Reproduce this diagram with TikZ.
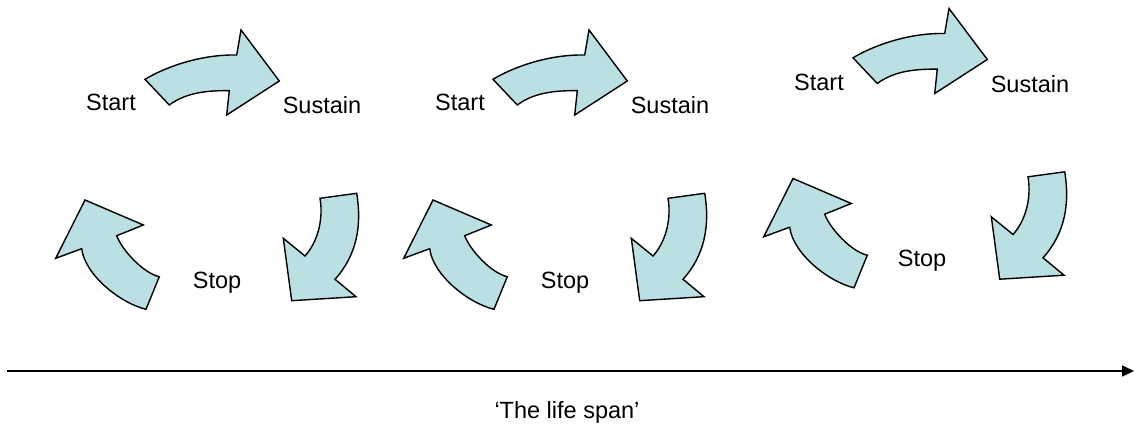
\documentclass[tikz,border=0pt]{standalone}
\usepackage{fontspec}
\setmainfont{Liberation Sans}
\usetikzlibrary{arrows.meta}
\definecolor{arrowfill}{RGB}{187,224,227}
\begin{document}
\begin{tikzpicture}[x=1pt,y=-1pt,
  bent/.style={draw=black, fill=arrowfill, line width=1.4pt, line join=miter},
  lbl/.style={font=\fontsize{23.5}{28}\selectfont, anchor=base, inner sep=0pt},
  axis/.style={line width=1.6pt, -{Triangle[length=12pt,width=11pt]}},
  % curved arrow pointing right (start -> sustain)
  pics/overarrow/.style={code={
    \path[bent] (145,79.3) .. controls (165,67.3) and (200,54.3) .. (236.7,55)
      -- (241,30) -- (279.3,81) -- (226.7,115) -- (229.3,90.7)
      .. controls (205,90.3) and (185,93.3) .. (169.3,105) -- cycle;
  }},
  % curved arrow pointing down-left (sustain -> stop)
  pics/downarrow/.style={code={
    \path[bent] (320,198.3) -- (356.7,193.3)
      .. controls (362,225) and (357,255) .. (335,279.3)
      -- (356,296.7) -- (291.7,300.7) -- (283.3,238.3) -- (305,256)
      .. controls (316,244) and (324,222) .. cycle;
  }},
  % curved arrow pointing up-left (stop -> start)
  pics/uparrow/.style={code={
    \path[bent] (85,200) -- (143.3,225) -- (116.7,235.7)
      .. controls (122,250) and (143,273) .. (159.3,276.7)
      -- (146,309.3)
      .. controls (120,303) and (85,275) .. (81.7,248.7)
      -- (55.7,258.3) -- cycle;
  }}]
\useasboundingbox (0,0) rectangle (1134,435);

% three start / sustain / stop cycles
\pic at (0,0) {uparrow};
\pic at (0,0) {overarrow};
\pic at (0,0) {downarrow};
\pic at (348,0) {uparrow};
\pic at (348,0) {overarrow};
\pic at (348,0) {downarrow};
\pic at (708,-21.5) {uparrow};
\pic at (708,-21.5) {overarrow};
\pic at (708,-21.5) {downarrow};

% labels
\node[lbl] (start1) at (111,111) {Start};
\node[lbl] (sustain1) at (322,114) {Sustain};
\node[lbl] (stop1) at (217,289) {Stop};
\node[lbl] (start2) at (460,111) {Start};
\node[lbl] (sustain2) at (670,114) {Sustain};
\node[lbl] (stop2) at (565,289) {Stop};
\node[lbl] (start3) at (819,91) {Start};
\node[lbl] (sustain3) at (1030,93) {Sustain};
\node[lbl] (stop3) at (922,267) {Stop};

% time axis
\coordinate (tstart) at (7,371);
\coordinate (tend) at (1134,371);
\draw[axis] (tstart) -- (tend);
\node[lbl] (span) at (567,418) {‘The life span’};
\end{tikzpicture}
\end{document}
